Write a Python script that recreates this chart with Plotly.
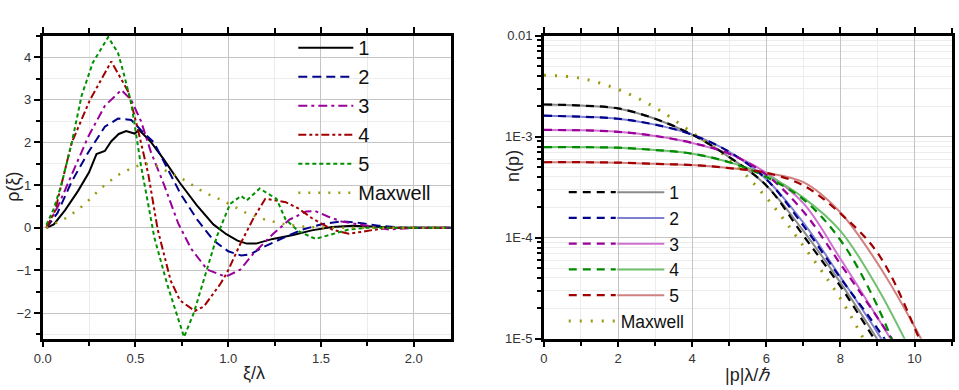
import plotly.graph_objects as go

# ---------------- Left panel data: rho(xi) ----------------
xi_1 = [0.02, 0.06, 0.12, 0.19, 0.25, 0.29, 0.335, 0.37, 0.41, 0.45, 0.495, 0.52, 0.58, 0.65, 0.74, 0.83, 0.92, 0.99, 1.05, 1.1, 1.15, 1.24, 1.35, 1.45, 1.56, 1.67, 1.78, 1.9, 2.2]
rho_1 = [0.0, 0.08, 0.41, 0.86, 1.3, 1.73, 1.8, 2.03, 2.2, 2.27, 2.21, 2.29, 2.03, 1.62, 1.05, 0.53, 0.08, -0.15, -0.3, -0.37, -0.37, -0.26, -0.17, -0.06, 0.02, 0.05, 0.03, 0.0, 0.0]

xi_2 = [0.02, 0.08, 0.157, 0.246, 0.335, 0.406, 0.477, 0.53, 0.6, 0.673, 0.744, 0.833, 0.922, 1.0, 1.07, 1.12, 1.19, 1.3, 1.4, 1.51, 1.61, 1.72, 1.81, 1.95, 2.2]
rho_2 = [0.0, 0.35, 1.09, 1.77, 2.37, 2.56, 2.53, 2.29, 2.0, 1.39, 0.79, 0.19, -0.3, -0.55, -0.65, -0.62, -0.45, -0.23, -0.04, 0.09, 0.15, 0.11, 0.05, 0.0, 0.0]

xi_3 = [0.02, 0.085, 0.157, 0.246, 0.335, 0.424, 0.477, 0.53, 0.584, 0.655, 0.73, 0.8, 0.887, 0.976, 1.0, 1.065, 1.137, 1.24, 1.33, 1.42, 1.47, 1.54, 1.61, 1.7, 1.8, 1.87, 2.0, 2.2]
rho_3 = [0.0, 0.53, 1.25, 2.14, 2.86, 3.23, 3.0, 2.5, 1.77, 1.0, 0.11, -0.49, -0.98, -1.13, -1.12, -0.98, -0.6, -0.15, 0.19, 0.38, 0.39, 0.26, 0.15, 0.08, 0.02, -0.04, 0.0, 0.0]

xi_4 = [0.02, 0.068, 0.10, 0.157, 0.255, 0.37, 0.46, 0.51, 0.57, 0.62, 0.69, 0.74, 0.82, 0.87, 0.96, 0.994, 1.065, 1.137, 1.2, 1.31, 1.38, 1.45, 1.56, 1.65, 1.74, 1.85, 2.2]
rho_4 = [0.0, 0.41, 1.0, 2.0, 3.0, 3.9, 3.2, 2.37, 1.24, -0.04, -1.24, -1.7, -1.95, -1.84, -1.3, -1.05, -0.38, 0.23, 0.68, 0.6, 0.45, 0.23, -0.04, -0.14, -0.08, 0.0, 0.0]

xi_5 = [0.02, 0.06, 0.10, 0.157, 0.21, 0.27, 0.353, 0.406, 0.433, 0.477, 0.504, 0.53, 0.557, 0.602, 0.673, 0.762, 0.815, 0.87, 0.94, 1.01, 1.07, 1.1, 1.17, 1.26, 1.31, 1.38, 1.47, 1.56, 1.65, 1.75, 2.2]
rho_5 = [0.07, 0.45, 1.0, 2.0, 3.1, 3.87, 4.47, 4.1, 3.68, 2.93, 2.18, 1.45, 0.83, -0.23, -1.35, -2.56, -1.99, -1.17, -0.19, 0.56, 0.75, 0.64, 0.92, 0.68, 0.19, -0.08, -0.26, -0.15, -0.04, 0.0, 0.0]

xi_m = [0.02, 0.14, 0.228, 0.317, 0.406, 0.495, 0.55, 0.61, 0.673, 0.76, 0.87, 0.94, 1.01, 1.1, 1.2, 1.31, 1.42, 1.55, 2.2]
rho_m = [0.0, 0.26, 0.56, 0.94, 1.24, 1.43, 1.5, 1.46, 1.32, 1.13, 0.83, 0.7, 0.55, 0.34, 0.19, 0.08, 0.02, 0.0, 0.0]

left_names = ["1", "2", "3", "4", "5", "Maxwell"]

# ---------------- Right panel data: n(p) ----------------
p_vals = [0, 1, 2, 3, 4, 5, 6, 7, 8, 9, 10, 11]
n1_dash = [2.09e-3, 2.04e-3, 1.91e-3, 1.51e-3, 1.05e-3, 6.3e-4, 3.3e-4, 1.05e-4, 3.3e-5, 8.9e-6, 2.5e-6, 5e-7]
n1_sol = [2.09e-3, 2.04e-3, 1.91e-3, 1.51e-3, 1.05e-3, 6.3e-4, 3.3e-4, 1.17e-4, 3.6e-5, 9.8e-6, 2.2e-6, 4e-7]
n2_dash = [1.62e-3, 1.58e-3, 1.51e-3, 1.32e-3, 1.05e-3, 7.1e-4, 3.8e-4, 1.32e-4, 4.0e-5, 1.26e-5, 3.5e-6, 8e-7]
n2_sol = [1.62e-3, 1.58e-3, 1.51e-3, 1.32e-3, 1.05e-3, 7.1e-4, 3.8e-4, 1.41e-4, 4.1e-5, 1.15e-5, 2.8e-6, 5e-7]
n3_dash = [1.17e-3, 1.16e-3, 1.12e-3, 1.02e-3, 8.7e-4, 6.8e-4, 4.2e-4, 1.82e-4, 5.5e-5, 1.62e-5, 4.5e-6, 1e-6]
n3_sol = [1.17e-3, 1.16e-3, 1.12e-3, 1.02e-3, 8.7e-4, 6.8e-4, 4.4e-4, 2.2e-4, 6.2e-5, 1.62e-5, 4.0e-6, 8e-7]
n4_dash = [7.9e-4, 7.9e-4, 7.8e-4, 7.4e-4, 6.8e-4, 5.6e-4, 4.0e-4, 2.4e-4, 9.5e-5, 2.1e-5, 2.5e-6, 2e-7]
n4_sol = [7.9e-4, 7.9e-4, 7.8e-4, 7.4e-4, 6.8e-4, 5.6e-4, 4.2e-4, 2.5e-4, 1.17e-4, 3.2e-5, 6.3e-6, 1e-6]
n5_dash = [5.6e-4, 5.6e-4, 5.55e-4, 5.4e-4, 5.25e-4, 4.9e-4, 4.4e-4, 3.3e-4, 1.74e-4, 7.1e-5, 1.29e-5, 1.3e-6]
n5_sol = [5.6e-4, 5.6e-4, 5.55e-4, 5.4e-4, 5.25e-4, 4.9e-4, 4.4e-4, 3.55e-4, 1.78e-4, 5.6e-5, 1.32e-5, 2.5e-6]
n_max = [4.07e-3, 3.80e-3, 2.95e-3, 1.95e-3, 1.10e-3, 6.0e-4, 2.5e-4, 8.3e-5, 2.5e-5, 5.6e-6, 1.26e-6, 2e-7]

right_names = ["1", "2", "3", "4", "5", "Maxwell"]

# ---------------- styling ----------------
W, H = 959, 390
FONT = "Liberation Sans, Arial, sans-serif"
left_cols = ["#000000", "#00008b", "#990099", "#a00000", "#009000", "#9a9a10"]
right_dark = ["#000000", "#00008b", "#990099", "#008a00", "#a00000"]
right_light = ["#8a8a8a", "#8080d0", "#d070d0", "#70c070", "#d08080"]
maxwell_col = "#9a9a10"
left_dash = ["solid", "9px,5px", "9px,4px,3px,4px", "8px,3px,3px,3px,3px,3px", "4px,3px", "2px,8px"]

fig = go.Figure()

left_x = [xi_1, xi_2, xi_3, xi_4, xi_5, xi_m]
left_y = [rho_1, rho_2, rho_3, rho_4, rho_5, rho_m]
for i in range(6):
    fig.add_trace(go.Scatter(
        x=left_x[i], y=left_y[i], mode="lines", name=left_names[i],
        line=dict(color=left_cols[i], width=2.5 if i == 5 else 2, dash=left_dash[i]),
        xaxis="x", yaxis="y", legend="legend", legendrank=i + 1))

dash_n = [n1_dash, n2_dash, n3_dash, n4_dash, n5_dash]
sol_n = [n1_sol, n2_sol, n3_sol, n4_sol, n5_sol]
for i in range(5):
    fig.add_trace(go.Scatter(
        x=p_vals, y=sol_n[i], mode="lines", name=right_names[i], line_shape="spline",
        line=dict(color=right_light[i], width=2),
        xaxis="x2", yaxis="y2", legend="legend3", legendrank=i + 1))
fig.add_trace(go.Scatter(
    x=p_vals, y=n_max, mode="lines", name=right_names[5], line_shape="spline",
    line=dict(color=maxwell_col, width=3, dash="2px,9px"),
    xaxis="x2", yaxis="y2", legend="legend2", legendrank=6))
for i in range(5):
    fig.add_trace(go.Scatter(
        x=p_vals, y=dash_n[i], mode="lines", name=" ", line_shape="spline",
        line=dict(color=right_dark[i], width=2.2, dash="8px,6px"),
        xaxis="x2", yaxis="y2", legend="legend2", legendrank=i + 1))

grid_major = "#c4c4c4"
grid_minor = "#ececec"
tickfont = dict(family=FONT, size=13, color="#333333")

axis_common = dict(
    showline=True, linecolor="black", linewidth=2.5,
    ticks="outside", ticklen=6, tickwidth=1.5, tickcolor="black",
    showgrid=True, gridcolor=grid_major, gridwidth=1,
    zeroline=False, tickfont=tickfont,
)

x1d = [34 / W, 446 / W]
x2d = [540 / W, 951.5 / W]
yd = [1 - 345 / H, 1 - 30 / H]

minor_log = [k * 10 ** d for d in (-5, -4, -3) for k in range(2, 10)]

fig.update_layout(
    width=W, height=H, margin=dict(l=0, r=0, t=0, b=0),
    paper_bgcolor="white", plot_bgcolor="white",
    font=dict(family=FONT, color="#222222"),
    xaxis=dict(domain=x1d, range=[0, 2.2], anchor="y", mirror="ticks",
               tickvals=[0, 0.5, 1.0, 1.5, 2.0], tickformat=".1f",
               minor=dict(dtick=0.25, tick0=0, ticks="outside", ticklen=5, tickcolor="black",
                          showgrid=True, gridcolor=grid_minor), **axis_common),
    yaxis=dict(domain=yd, range=[-2.6, 4.5], anchor="x", mirror=True,
               tickvals=[-2, -1, 0, 1, 2, 3, 4],
               minor=dict(dtick=0.5, tick0=0, ticks="outside", ticklen=4, tickcolor="black",
                          showgrid=True, gridcolor=grid_minor), **axis_common),
    xaxis2=dict(domain=x2d, range=[0, 11], anchor="y2", mirror="ticks",
                tickvals=[0, 2, 4, 6, 8, 10],
                minor=dict(dtick=1, tick0=0, ticks="outside", ticklen=5, tickcolor="black",
                           showgrid=True, gridcolor=grid_minor), **axis_common),
    yaxis2=dict(domain=yd, type="log", range=[-5, -2], anchor="x2", mirror=True,
                tickvals=[1e-5, 1e-4, 1e-3, 1e-2], ticktext=["1E-5", "1E-4", "1E-3", "0.01"],
                minor=dict(tickmode="array", tickvals=minor_log, ticks="outside", ticklen=4,
                           tickcolor="black", showgrid=True, gridcolor=grid_minor), **axis_common),
    legend=dict(x=287 / W, y=1 - 22 / H, xanchor="left", yanchor="top",
                bgcolor="rgba(0,0,0,0)", font=dict(family=FONT, size=20, color="#111111"),
                itemwidth=55, tracegroupgap=0),
    legend2=dict(x=560 / W, y=1 - 174 / H, xanchor="left", yanchor="top",
                 bgcolor="rgba(0,0,0,0)", font=dict(family=FONT, size=17.5, color="#111111"),
                 itemwidth=47, tracegroupgap=0),
    legend3=dict(x=609 / W, y=1 - 174 / H, xanchor="left", yanchor="top",
                 bgcolor="rgba(0,0,0,0)", font=dict(family=FONT, size=17.5, color="#111111"),
                 itemwidth=47, tracegroupgap=0),
    showlegend=True,
)

title_font = dict(family=FONT, size=18, color="#222222")
fig.add_annotation(text="ξ/λ", x=247 / W, y=1 - 381 / H, xref="paper", yref="paper",
                   showarrow=False, font=title_font, xanchor="center", yanchor="middle")
fig.add_annotation(text="ρ(ξ)", x=4 / W, y=1 - 187 / H, xref="paper", yref="paper",
                   showarrow=False, font=title_font, textangle=-90, xanchor="center", yanchor="middle")
fig.add_annotation(text="|p|λ/<i>ℏ</i>", x=745 / W, y=1 - 383 / H, xref="paper", yref="paper",
                   showarrow=False, font=title_font, xanchor="center", yanchor="middle")
fig.add_annotation(text="n(p)", x=508 / W, y=1 - 165 / H, xref="paper", yref="paper",
                   showarrow=False, font=title_font, textangle=-90, xanchor="center", yanchor="middle")

fig.write_html("out.html")
